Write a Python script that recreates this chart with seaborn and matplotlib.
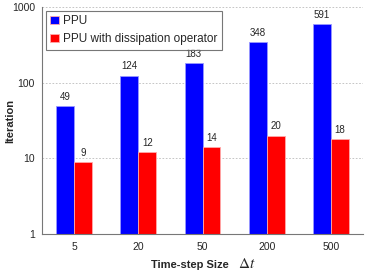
import numpy as np
import pandas as pd
import matplotlib
matplotlib.use("Agg")
import matplotlib.pyplot as plt
import seaborn as sns

# data
step_sizes = ["5", "20", "50", "200", "500"]
ppu = [49, 124, 183, 348, 591]
ppu_diss = [9, 12, 14, 20, 18]
series = ["PPU", "PPU with dissipation operator"]

df = pd.DataFrame({
    "step": step_sizes * 2,
    "iter": ppu + ppu_diss,
    "method": [series[0]] * len(ppu) + [series[1]] * len(ppu_diss),
})

sns.set_style("white")
plt.rcParams["font.family"] = ["Liberation Sans", "DejaVu Sans"]
plt.rcParams["mathtext.fontset"] = "stix"

fig = plt.figure(figsize=(3.65, 2.74), dpi=100)
ax = fig.add_axes([42 / 365, 40 / 274, 321 / 365, 227 / 274])

sns.barplot(data=df, x="step", y="iter", hue="method", order=step_sizes,
            hue_order=series, palette=["#0000ff", "#ff0000"], width=0.56,
            saturation=1, ax=ax, linewidth=0.6, edgecolor="#ffaaaa")
for b in ax.patches[:len(ppu)]:
    b.set_edgecolor("#9999ff")

ax.set_yscale("log")
ax.set_ylim(1, 1000)
ax.set_xlim(-0.5, len(step_sizes) - 0.5)
ax.set_yticks([1, 10, 100, 1000])
ax.set_yticklabels(["1", "10", "100", "1000"])
ax.minorticks_off()

for c in ax.containers:
    ax.bar_label(c, fmt="%d", padding=3, fontsize=7)

ax.yaxis.grid(True, linestyle=(0, (2, 2)), color="#bbbbbb", linewidth=0.6)
ax.set_axisbelow(True)
for s in ["top", "right"]:
    ax.spines[s].set_visible(False)
for s in ["left", "bottom"]:
    ax.spines[s].set_color("#777777")
    ax.spines[s].set_linewidth(0.8)

ax.tick_params(axis="y", length=0, labelsize=7.5, pad=5)
ax.tick_params(axis="x", which="major", length=0, labelsize=7.5, pad=6)
ax.set_xticks(np.arange(0.5, len(step_sizes), 1), minor=True)
ax.tick_params(axis="x", which="minor", direction="in", length=3,
               color="#777777", width=0.8)

ax.set_ylabel("Iteration", fontsize=8, fontweight="bold")
ax.yaxis.set_label_coords(-27 / 321, 0.5)
ax.set_xlabel("")
fig.text(229 / 365, 1 - 265 / 274, "Time-step Size", fontsize=8,
         fontweight="bold", ha="right", va="center")
fig.text(238 / 365, 1 - 264 / 274, "$\\Delta t$", fontsize=11,
         ha="left", va="center")

leg = ax.legend(loc="upper left", fontsize=8.5, frameon=True, fancybox=False,
                handlelength=0.7, handleheight=0.7, handletextpad=0.4,
                borderpad=0.4, labelspacing=0.5, borderaxespad=0.3)
leg.get_frame().set_edgecolor("#555555")
leg.get_frame().set_linewidth(0.8)

fig.savefig("out.png", dpi=100)
